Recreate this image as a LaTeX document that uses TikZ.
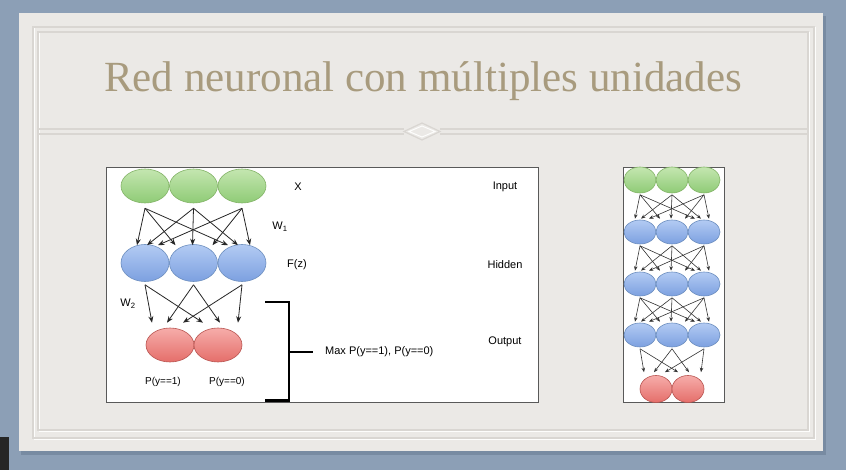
\documentclass[tikz,border=0pt]{standalone}
\usepackage{fontspec}
\setmainfont{Liberation Serif}
\setsansfont{Liberation Sans}
\usetikzlibrary{arrows.meta,shapes.geometric,shadings}

\definecolor{slatebg}{HTML}{8C9FB6}
\definecolor{slateshadow}{HTML}{66788F}
\definecolor{cardfill}{HTML}{EBE9E6}
\definecolor{cardline}{HTML}{D9D6D2}
\definecolor{titletan}{HTML}{A89B7E}
\definecolor{greentop}{HTML}{C4E6B0}
\definecolor{greenbot}{HTML}{8FCB76}
\definecolor{greenline}{HTML}{82B366}
\definecolor{bluetop}{HTML}{B3CBF3}
\definecolor{bluebot}{HTML}{7CA0E0}
\definecolor{blueline}{HTML}{6C8EBF}
\definecolor{redtop}{HTML}{F6ADAA}
\definecolor{redbot}{HTML}{E56E6A}
\definecolor{redline}{HTML}{B85450}

\tikzset{
  unit/.style={ellipse, inner sep=0pt, line width=0.6pt},
  gnode/.style={unit, draw=greenline, top color=greentop, bottom color=greenbot},
  bnode/.style={unit, draw=blueline, top color=bluetop, bottom color=bluebot},
  rnode/.style={unit, draw=redline, top color=redtop, bottom color=redbot},
  bigunit/.style={minimum width=48pt},
  smallunit/.style={minimum width=32pt},
  conn/.style={draw=black!85, line width=0.8pt, -{Stealth[length=6.5pt,width=5pt]}},
  smallconn/.style={draw=black!80, line width=0.6pt, -{Stealth[length=4.5pt,width=3.5pt]}},
  lab/.style={font=\sffamily\fontsize{11}{13}\selectfont, inner sep=0pt},
  smalllab/.style={font=\sffamily\fontsize{10}{12}\selectfont, inner sep=0pt},
  panel/.style={draw=black!65, line width=0.8pt, fill=white},
  bracket/.style={draw=black, line width=2.4pt},
  frameline/.style={draw=cardline, line width=1.2pt},
  framelight/.style={draw=white!90!cardfill, line width=1pt}
}

\begin{document}
\begin{tikzpicture}[x=1pt, y=-1pt]
\useasboundingbox (0,0) rectangle (846,470);

% backdrop and slide card
\fill[slatebg] (0,0) rectangle (846,470);
\fill[black!85] (0,437) rectangle (9,470);
\fill[slateshadow, opacity=0.5] (21,16) rectangle (826,455);
\fill[cardfill] (19,13) rectangle (823,451);

% embossed double frame
\draw[framelight] (34,28) rectangle (815,439);
\draw[frameline] (33,27) rectangle (814,438);
\draw[framelight] (39,33) rectangle (809,431);
\draw[frameline] (38,32) rectangle (808,430);

% separator with diamond ornament
\draw[frameline] (38,129) -- (404,129);
\draw[frameline] (440,129) -- (808,129);
\draw[frameline] (38,134) -- (404,134);
\draw[frameline] (440,134) -- (808,134);
\draw[frameline] (404,131.5) -- (422,123) -- (440,131.5) -- (422,140) -- cycle;
\draw[framelight] (409,131.5) -- (422,126) -- (435,131.5) -- (422,137) -- cycle;

% title
\node[font=\fontsize{43}{49}\selectfont, text=titletan, anchor=base, inner sep=0pt] (title) at (423,92) {Red neuronal con múltiples unidades};

% ---------------- left panel ----------------
\node[panel, minimum width=432pt, minimum height=235pt, anchor=north west, inner sep=0pt] (leftpanel) at (106,167) {};

\node[gnode, bigunit, minimum height=34pt] (g1) at (145,186) {};
\node[gnode, bigunit, minimum height=34pt] (g2) at (193.5,186) {};
\node[gnode, bigunit, minimum height=34pt] (g3) at (242,186) {};

\node[bnode, bigunit, minimum height=37pt] (b1) at (145,263) {};
\node[bnode, bigunit, minimum height=37pt] (b2) at (193.5,263) {};
\node[bnode, bigunit, minimum height=37pt] (b3) at (242,263) {};

\node[rnode, bigunit, minimum height=34pt] (r1) at (170,345) {};
\node[rnode, bigunit, minimum height=34pt] (r2) at (218,345) {};

\foreach \s/\t/\dx in {g1/b1/-8, g1/b2/-18, g1/b3/-14,
                       g2/b1/2,  g2/b2/-1,  g2/b3/-4,
                       g3/b1/13, g3/b2/19,  g3/b3/8}
  \draw[conn] ([yshift=-5pt]\s.south) -- ([xshift=\dx pt, yshift=-1pt]\t.north);

\foreach \s/\t/\dx in {b1/r1/-18, b1/r2/-15,
                       b2/r1/-3,  b2/r2/2,
                       b3/r1/13,  b3/r2/20}
  \draw[conn] ([yshift=-3pt]\s.south) -- ([xshift=\dx pt, yshift=5pt]\t.north);

% layer annotations
\node[lab] (lx) at (298,187) {X};
\node[lab] (lw1) at (280,227) {W\textsubscript{1}};
\node[lab] (lfz) at (297,265) {F(z)};
\node[lab] (lw2) at (128,304) {W\textsubscript{2}};
\node[smalllab] (lp1) at (163,382) {P(y==1)};
\node[smalllab] (lp0) at (227,382) {P(y==0)};
\node[lab] (linput) at (505,187) {Input};
\node[lab] (lhidden) at (505,265) {Hidden};
\node[lab] (loutput) at (505,342) {Output};

% bracket gathering the output units
\coordinate (bt) at (265,302);
\coordinate (bb) at (265,400.5);
\coordinate (bm) at (313,352);
\draw[bracket] (bt) -- (289,302) -- (289,400.5) -- (bb);
\draw[bracket] (289,352) -- (bm);
\node[lab, anchor=west] (lmax) at (325,352) {Max P(y==1), P(y==0)};

% ---------------- right panel ----------------
\node[panel, minimum width=101pt, minimum height=235pt, anchor=north west, inner sep=0pt] (rightpanel) at (623,167) {};

\foreach \i/\x in {1/640, 2/672, 3/704} {
  \node[gnode, smallunit, minimum height=26pt] (ra\i) at (\x,180) {};
  \node[bnode, smallunit, minimum height=24pt] (rb\i) at (\x,232) {};
  \node[bnode, smallunit, minimum height=24pt] (rc\i) at (\x,284) {};
  \node[bnode, smallunit, minimum height=24pt] (rd\i) at (\x,335) {};
}
\node[rnode, smallunit, minimum height=27pt] (re1) at (656,389) {};
\node[rnode, smallunit, minimum height=27pt] (re2) at (688,389) {};

\foreach \p/\q in {ra/rb, rb/rc, rc/rd}
  \foreach \s/\t/\dx in {1/1/-5, 1/2/-12, 1/3/-9,
                         2/1/1,  2/2/-1,  2/3/-3,
                         3/1/9,  3/2/13,  3/3/5}
    \draw[smallconn] ([yshift=-1.5pt]\p\s.south) -- ([xshift=\dx pt, yshift=1pt]\q\t.north);

\foreach \s/\t/\dx in {1/1/-12, 1/2/-10,
                       2/1/-2,  2/2/1,
                       3/1/9,   3/2/13}
  \draw[smallconn] ([yshift=-1.5pt]rd\s.south) -- ([xshift=\dx pt, yshift=3pt]re\t.north);

\end{tikzpicture}
\end{document}
